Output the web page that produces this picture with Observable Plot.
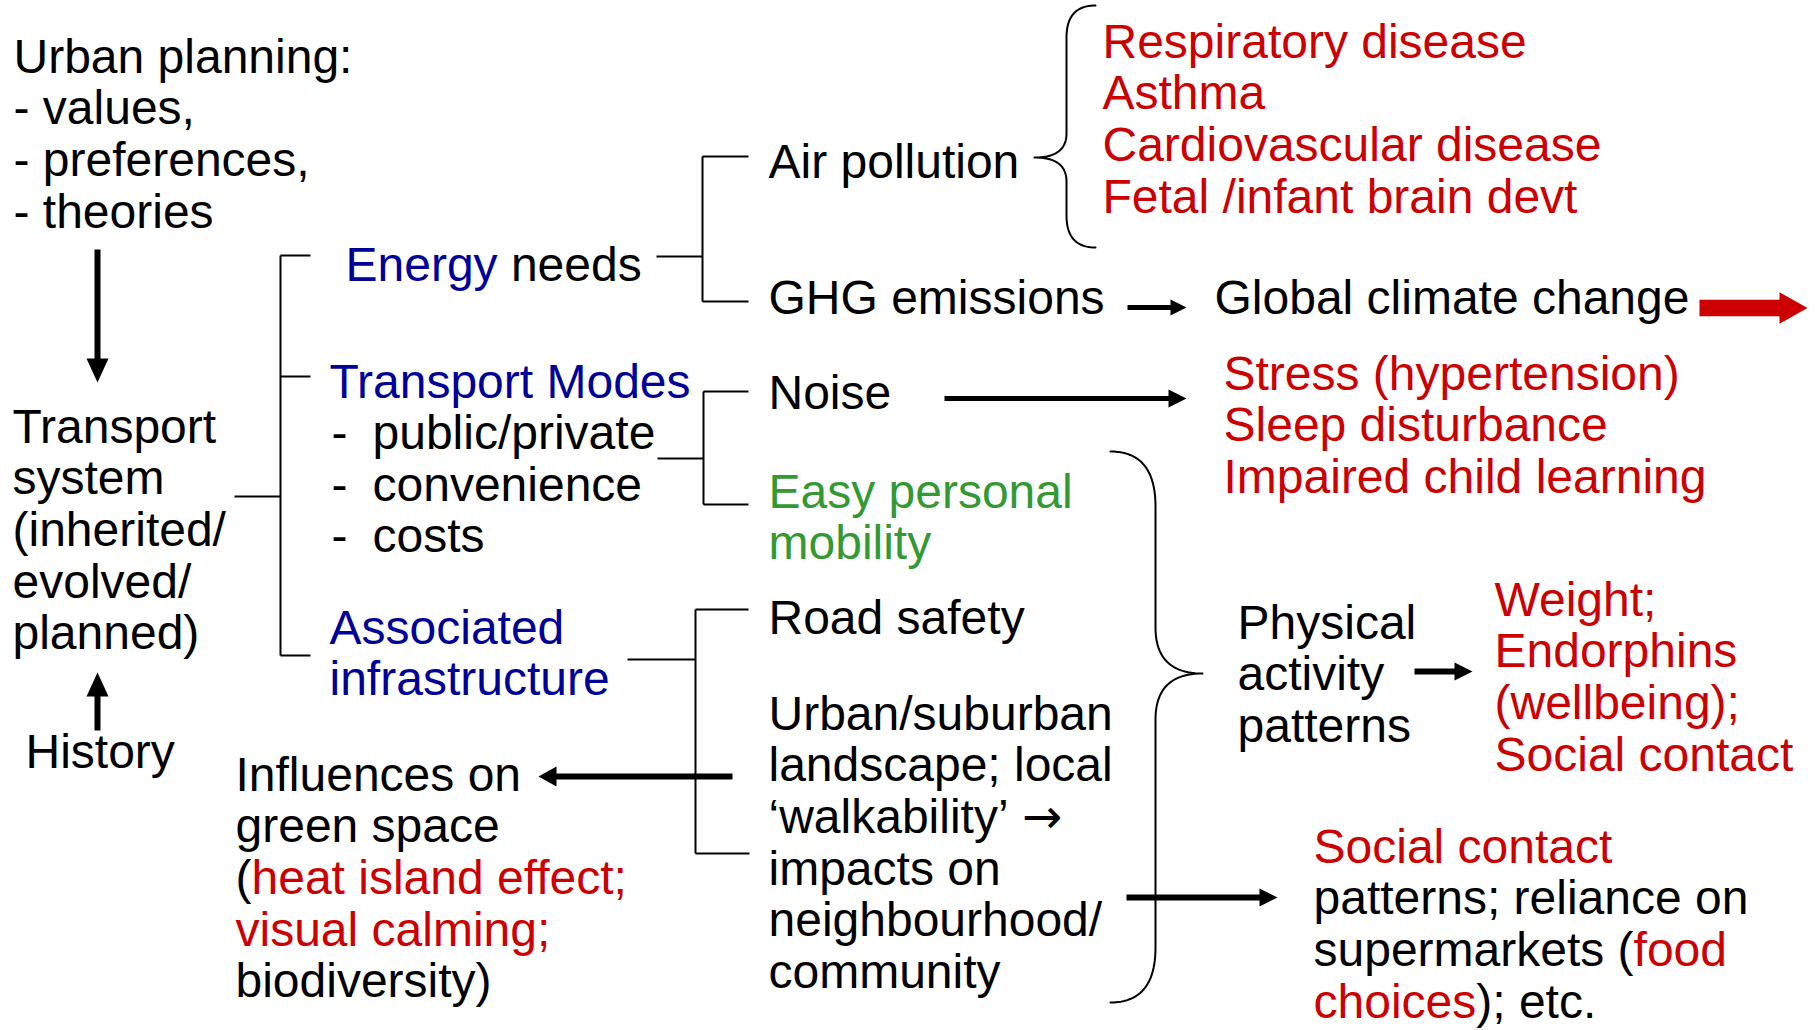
<!DOCTYPE html>
<html><head><meta charset="utf-8">
<script src="https://cdn.jsdelivr.net/npm/d3@7"></script>
<script src="https://cdn.jsdelivr.net/npm/@observablehq/plot@0.6"></script>
<style>body{margin:0;background:#fff}</style>
</head><body><div id="chart"></div>
<script>
// ---------- content ----------
const K = "k", R = "r", B = "b", G = "g";
const palette = {k: "#000000", r: "#CC0000", b: "#000099", g: "#339933"};

const urbanPlanning = ["Urban planning:", "- values,", "- preferences,", "- theories"];
const transportSystem = ["Transport", "system", "(inherited/", "evolved/", "planned)"];
const historyLabel = ["History"];
const energyNeeds = [[["Energy", B], [" needs", K]]];
const transportModes = ["Transport Modes"];
const modeDashes = ["-", "-", "-"];
const modeFactors = ["public/private", "convenience", "costs"];
const associatedInfra = ["Associated", "infrastructure"];
const airPollution = ["Air pollution"];
const ghgEmissions = ["GHG emissions"];
const climateChange = ["Global climate change"];
const airHealth = ["Respiratory disease", "Asthma", "Cardiovascular disease", "Fetal /infant brain devt"];
const noiseLabel = ["Noise"];
const noiseHealth = ["Stress (hypertension)", "Sleep disturbance", "Impaired child learning"];
const mobility = ["Easy personal", "mobility"];
const roadSafety = ["Road safety"];
// the third element of a segment marks the symbol font
const landscape = [[["Urban/suburban", K]], [["landscape; local", K]], [["\u2018walkability\u2019 ", K], ["\u2192", K, "sym"]], [["impacts on", K]], [["neighbourhood/", K]], [["community", K]]];
const physical = ["Physical", "activity", "patterns"];
const physicalHealth = ["Weight;", "Endorphins", "(wellbeing);", "Social contact"];
const greenSpace = [[["Influences on", K]], [["green space", K]], [["(", K], ["heat island effect;", R]], [["visual calming;", R]], [["biodiversity)", K]]];
const socialContact = [[["Social contact", R]], [["patterns; reliance on", K]], [["supermarkets (", K], ["food", R]], [["choices", R], ["); etc.", K]]];

// ---------- layout ----------
const FS = 48, LH = 51.7;
const FONT = '"Liberation Sans", Arial, Helvetica, sans-serif';
const SYMFONT = '"DejaVu Sans", sans-serif';
const blocks = [
  {lines: urbanPlanning, c: K, x: 13, y: 72},
  {lines: transportSystem, c: K, x: 12, y: 442},
  {lines: historyLabel, c: K, x: 25, y: 767},
  {lines: energyNeeds, c: K, x: 345, y: 280},
  {lines: transportModes, c: B, x: 329, y: 397},
  {lines: modeDashes, c: K, x: 331, y: 448.5},
  {lines: modeFactors, c: K, x: 372, y: 448.5},
  {lines: associatedInfra, c: B, x: 329, y: 643},
  {lines: airPollution, c: K, x: 768, y: 177},
  {lines: ghgEmissions, c: K, x: 768, y: 313},
  {lines: climateChange, c: K, x: 1214, y: 313},
  {lines: airHealth, c: R, x: 1102, y: 57},
  {lines: noiseLabel, c: K, x: 768, y: 408},
  {lines: noiseHealth, c: R, x: 1223, y: 389},
  {lines: mobility, c: G, x: 768, y: 507},
  {lines: roadSafety, c: K, x: 768, y: 633},
  {lines: landscape, c: K, x: 768, y: 729},
  {lines: physical, c: K, x: 1237, y: 638},
  {lines: physicalHealth, c: R, x: 1494, y: 615},
  {lines: greenSpace, c: K, x: 235, y: 790},
  {lines: socialContact, c: K, x: 1313, y: 862}
];

const ctx = document.createElement("canvas").getContext("2d");
ctx.font = `${FS}px ${FONT}`;
const measure = (s) => ctx.measureText(s).width;

const texts = [], symbols = [];
for (const b of blocks) {
  b.lines.forEach((line, i) => {
    const segs = typeof line === "string" ? [[line, b.c]] : line;
    let prefix = "";
    for (const [t, c, f] of segs) {
      const lead = t.match(/^\s*/)[0];
      const item = {text: t.trim(), x: b.x + measure(prefix + lead), y: b.y + i * LH, fill: palette[c]};
      (f === "sym" ? symbols : texts).push(item);
      prefix += t;
    }
  });
}

// thin bracket lines [x1,y1,x2,y2]
const thinLines = [
  [234, 496, 280, 496], [280, 255, 280, 655], [280, 255, 310, 255], [280, 376, 310, 376], [280, 655, 310, 655],
  [656, 256, 702, 256], [702, 156, 702, 301], [702, 156, 748, 156], [702, 301, 748, 301],
  [657, 458, 703, 458], [703, 391, 703, 504], [703, 391, 748, 391], [703, 504, 748, 504],
  [627, 659, 695, 659], [695, 609, 695, 853], [695, 609, 748, 609], [695, 853, 749, 853]
].map(([x1, y1, x2, y2]) => ({x1, y1, x2, y2}));

// thick arrows: from, to, shaft width, head length, head half-width
const arrows = [
  {x1: 97, y1: 249, x2: 97, y2: 382, w: 6, hl: 24, hw: 11},
  {x1: 97, y1: 730, x2: 97, y2: 672, w: 6, hl: 24, hw: 11},
  {x1: 1127, y1: 307, x2: 1186, y2: 307, w: 5, hl: 16, hw: 8},
  {x1: 944, y1: 398, x2: 1186, y2: 398, w: 5, hl: 18, hw: 9},
  {x1: 1414, y1: 671, x2: 1472, y2: 671, w: 6, hl: 18, hw: 9},
  {x1: 732, y1: 776, x2: 538, y2: 776, w: 6, hl: 18, hw: 10},
  {x1: 1126, y1: 897, x2: 1277, y2: 897, w: 6, hl: 18, hw: 9}
];
const shafts = arrows.map((a) => {
  const L = Math.hypot(a.x2 - a.x1, a.y2 - a.y1), ux = (a.x2 - a.x1) / L, uy = (a.y2 - a.y1) / L;
  return {x1: a.x1, y1: a.y1, x2: a.x2 - ux * (a.hl - 2), y2: a.y2 - uy * (a.hl - 2), w: a.w};
});
const heads = arrows.flatMap((a, i) => {
  const L = Math.hypot(a.x2 - a.x1, a.y2 - a.y1), ux = (a.x2 - a.x1) / L, uy = (a.y2 - a.y1) / L;
  const bx = a.x2 - ux * a.hl, by = a.y2 - uy * a.hl;
  return [
    {id: i, x: a.x2, y: a.y2},
    {id: i, x: bx - uy * a.hw, y: by + ux * a.hw},
    {id: i, x: bx + uy * a.hw, y: by - ux * a.hw}
  ];
});

// red block arrow (to the right)
const bigArrow = {x1: 1699, x2: 1807, y: 307.5, hb: 1779, sh: 8.2, hh: 15.8};
const bigArrowPts = [
  [bigArrow.x1, bigArrow.y - bigArrow.sh], [bigArrow.hb, bigArrow.y - bigArrow.sh], [bigArrow.hb, bigArrow.y - bigArrow.hh],
  [bigArrow.x2, bigArrow.y], [bigArrow.hb, bigArrow.y + bigArrow.hh], [bigArrow.hb, bigArrow.y + bigArrow.sh],
  [bigArrow.x1, bigArrow.y + bigArrow.sh]
].map(([x, y]) => ({x, y}));

// curly braces: ends x, vertical x, tip x, top, mid, bottom, end radius, mid radius
const braces = [
  {xe: 1095, xv: 1066, xt: 1034, yt: 5, ym: 157, yb: 247, r1: 32, r2: 24},
  {xe: 1110, xv: 1155, xt: 1202, yt: 451, ym: 673, yb: 1002, r1: 55, r2: 46}
];
function quad(p0, p1, p2, n = 24) {
  const pts = [];
  for (let k = 0; k <= n; k++) {
    const t = k / n, u = 1 - t;
    pts.push([u * u * p0[0] + 2 * u * t * p1[0] + t * t * p2[0], u * u * p0[1] + 2 * u * t * p1[1] + t * t * p2[1]]);
  }
  return pts;
}
const bracePts = braces.flatMap((b, i) => {
  const pts = [
    ...quad([b.xe, b.yt], [b.xv, b.yt], [b.xv, b.yt + b.r1]),
    ...quad([b.xv, b.ym - b.r2], [b.xv, b.ym], [b.xt, b.ym]),
    ...quad([b.xt, b.ym], [b.xv, b.ym], [b.xv, b.ym + b.r2]),
    ...quad([b.xv, b.yb - b.r1], [b.xv, b.yb], [b.xe, b.yb])
  ];
  return pts.map(([x, y]) => ({id: i, x, y}));
});

const W = 1816, H = 1030;
const chart = Plot.plot({
  width: W, height: H, margin: 0,
  x: {domain: [0, W], range: [0, W], axis: null},
  y: {domain: [0, H], range: [0, H], axis: null},
  color: {type: "identity"},
  style: {background: "white"},
  marks: [
    Plot.link(thinLines, {x1: "x1", y1: "y1", x2: "x2", y2: "y2", stroke: "black", strokeWidth: 2}),
    ...[5, 6].map((w) => Plot.link(shafts.filter((s) => s.w === w), {x1: "x1", y1: "y1", x2: "x2", y2: "y2", stroke: "black", strokeWidth: w})),
    Plot.line(heads, {x: "x", y: "y", z: "id", fill: "black", stroke: "none"}),
    Plot.line(bigArrowPts, {x: "x", y: "y", fill: "#CC0000", stroke: "none"}),
    Plot.line(bracePts, {x: "x", y: "y", z: "id", stroke: "black", strokeWidth: 2, fill: "none"}),
    Plot.text(texts, {x: "x", y: "y", text: "text", fill: "fill", textAnchor: "start", lineAnchor: "bottom", fontSize: FS, fontFamily: FONT}),
    Plot.text(symbols, {x: "x", y: "y", text: "text", fill: "fill", textAnchor: "start", lineAnchor: "bottom", fontSize: FS, fontFamily: SYMFONT})
  ]
});
document.getElementById("chart").appendChild(chart);
</script>
</body></html>
